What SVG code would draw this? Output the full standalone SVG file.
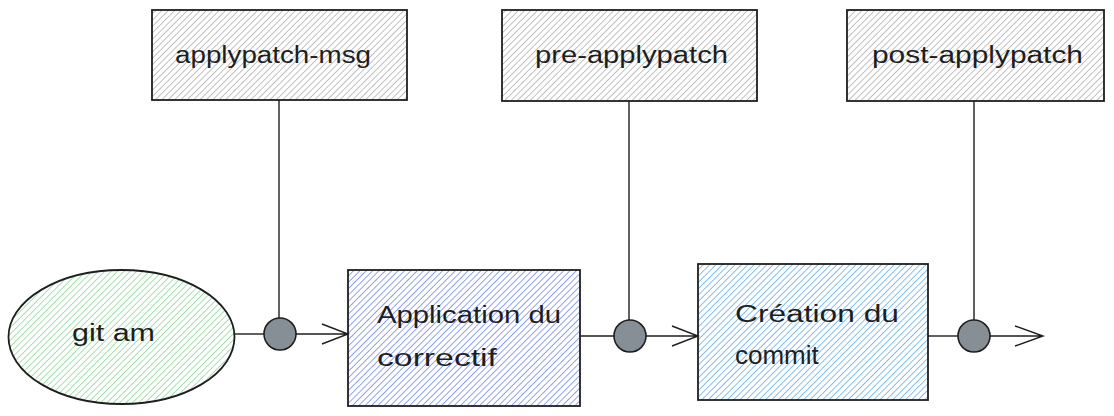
<svg xmlns="http://www.w3.org/2000/svg" width="1114" height="416" viewBox="0 0 1114 416">
<defs>
<pattern id="hGray" width="4.5" height="4.5" patternUnits="userSpaceOnUse" patternTransform="rotate(45)"><line x1="0" y1="0" x2="0" y2="4.5" stroke="#a8a8a8" stroke-width="1.4"/></pattern>
<pattern id="hGreen" width="4.5" height="4.5" patternUnits="userSpaceOnUse" patternTransform="rotate(45)"><line x1="0" y1="0" x2="0" y2="4.5" stroke="#7ed58e" stroke-width="1.4"/></pattern>
<pattern id="hPurple" width="4.5" height="4.5" patternUnits="userSpaceOnUse" patternTransform="rotate(45)"><line x1="0" y1="0" x2="0" y2="4.5" stroke="#6f86ee" stroke-width="1.5"/></pattern>
<pattern id="hBlue" width="4.5" height="4.5" patternUnits="userSpaceOnUse" patternTransform="rotate(45)"><line x1="0" y1="0" x2="0" y2="4.5" stroke="#5eabec" stroke-width="1.5"/></pattern>
</defs>
<style>
.box{stroke:#1e1e1e;stroke-width:1.8}
.t{font-family:"Liberation Sans",Arial,sans-serif;font-size:23px;fill:#1e1e1e}
.ln{stroke:#1e1e1e;stroke-width:1.4;fill:none}
.dot{fill:#868e96;stroke:#1e1e1e;stroke-width:1.6}
</style>
<rect width="1114" height="416" fill="#ffffff"/>
<g id="hook-applypatch-msg"><rect class="box" x="152" y="10" width="255" height="90" fill="url(#hGray)"/><text class="t" x="175" y="63" textLength="196" lengthAdjust="spacingAndGlyphs">applypatch-msg</text></g>
<g id="hook-pre-applypatch"><rect class="box" x="502" y="10" width="255" height="91" fill="url(#hGray)"/><text class="t" x="535" y="63" textLength="193" lengthAdjust="spacingAndGlyphs">pre-applypatch</text></g>
<g id="hook-post-applypatch"><rect class="box" x="847" y="10" width="257" height="91" fill="url(#hGray)"/><text class="t" x="872" y="63" textLength="211" lengthAdjust="spacingAndGlyphs">post-applypatch</text></g>
<g id="git-am"><ellipse class="box" cx="121.5" cy="337" rx="113" ry="67" fill="url(#hGreen)"/><text class="t" x="72" y="341" textLength="83" lengthAdjust="spacingAndGlyphs">git am</text></g>
<g id="application"><rect class="box" x="348" y="270" width="232" height="136" fill="url(#hPurple)"/><text class="t" x="377" y="323" textLength="184" lengthAdjust="spacingAndGlyphs">Application du</text><text class="t" x="377" y="366" textLength="120" lengthAdjust="spacingAndGlyphs">correctif</text></g>
<g id="creation"><rect class="box" x="698" y="264" width="230" height="136" fill="url(#hBlue)"/><text class="t" x="735" y="322" textLength="164" lengthAdjust="spacingAndGlyphs">Création du</text><text class="t" x="735" y="364" style="font-size:26px">commit</text></g>
<g id="connectors">
<path class="ln" d="M279 100 V318"/>
<path class="ln" d="M629 101 V320"/>
<path class="ln" d="M974 101 V320"/>
<path class="ln" d="M235 334 H264"/>
<path class="ln" d="M296 334 H348 M322 324 L348 334 L322 344"/>
<path class="ln" d="M580 336 H614"/>
<path class="ln" d="M646 336 H698 M672 326 L698 336 L672 346"/>
<path class="ln" d="M928 336 H958"/>
<path class="ln" d="M990 336 H1043 M1015 326 L1043 336 L1015 346"/>
<circle class="dot" cx="280" cy="334" r="16"/>
<circle class="dot" cx="630" cy="336" r="16"/>
<circle class="dot" cx="974" cy="336" r="16"/>
</g>
</svg>
